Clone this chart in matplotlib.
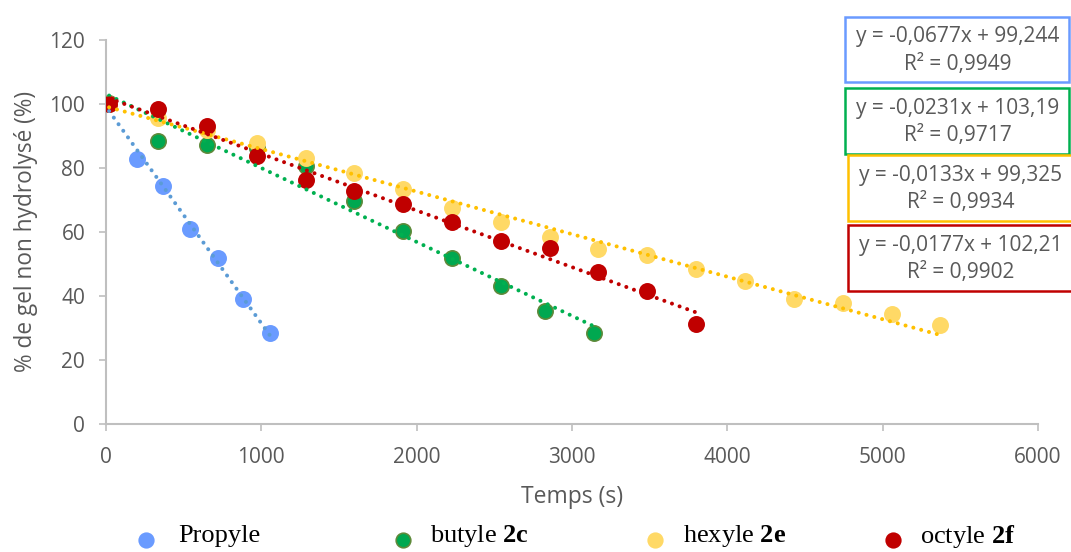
import matplotlib
matplotlib.use("Agg")
import matplotlib.pyplot as plt
from matplotlib.lines import Line2D
from matplotlib.patches import Rectangle
import numpy as np

# ---- data ----
propyle_t = [20, 198, 369, 541, 718, 884, 1056]
propyle_y = [100.0, 83.0, 74.6, 60.9, 51.9, 39.3, 28.4]

butyle_t = [20, 337, 652, 970, 1286, 1597, 1911, 2226, 2541, 2827, 3142]
butyle_y = [100.5, 88.5, 87.3, 86.5, 80.7, 69.7, 60.5, 52.1, 43.1, 35.4, 28.4]

hexyle_t = [20, 337, 652, 970, 1286, 1597, 1911, 2226, 2542, 2859, 3170,
            3485, 3799, 4115, 4429, 4744, 5059, 5370]
hexyle_y = [100.0, 95.8, 92.0, 87.8, 83.1, 78.4, 73.5, 67.5, 63.2, 58.4, 54.7,
            52.9, 48.4, 44.8, 39.1, 37.8, 34.4, 31.0]

octyle_t = [20, 337, 652, 970, 1286, 1597, 1911, 2226, 2542, 2859, 3170,
            3485, 3799]
octyle_y = [100.0, 98.4, 93.3, 83.8, 76.3, 73.0, 68.8, 63.2, 57.4, 55.0, 47.7,
            41.7, 31.3]

trend_slopes = [-0.0677, -0.0231, -0.0133, -0.0177]
trend_intercepts = [99.244, 103.19, 99.325, 102.21]
eq_texts = ["y = -0,0677x + 99,244\nR² = 0,9949",
            "y = -0,0231x + 103,19\nR² = 0,9717",
            "y = -0,0133x + 99,325\nR² = 0,9934",
            "y = -0,0177x + 102,21\nR² = 0,9902"]
legend_names = ["Propyle", r"butyle $\mathbf{2c}$", r"hexyle $\mathbf{2e}$", r"octyle $\mathbf{2f}$"]
x_ticks = [0, 1000, 2000, 3000, 4000, 5000, 6000]
y_ticks = [0, 20, 40, 60, 80, 100, 120]

# ---- style ----
plt.rcParams['font.family'] = ['Open Sans', 'DejaVu Sans']
plt.rcParams['mathtext.fontset'] = 'custom'
plt.rcParams['mathtext.rm'] = 'Liberation Serif'
plt.rcParams['mathtext.bf'] = 'Liberation Serif:bold'
plt.rcParams['mathtext.it'] = 'Liberation Serif:italic'

W, H = 1071, 552
fig = plt.figure(figsize=(W / 100, H / 100), dpi=100)
ax = fig.add_axes([106 / W, 1 - 424.3 / H, (1038 - 106) / W, (424.3 - 40.3) / H])

gray_txt = '#595959'
axis_col = '#BFBFBF'

series = [
    (propyle_t, propyle_y, '#6A9BFF', '#6A9BFF', '#5B9BD5'),
    (butyle_t, butyle_y, '#00A850', '#5E8A3A', '#00B050'),
    (hexyle_t, hexyle_y, '#FFD966', '#FFD966', '#FFC000'),
    (octyle_t, octyle_y, '#C00000', '#C00000', '#C00000'),
]

for i, (t, y, fc, ec, lc) in enumerate(series):
    ax.plot(t, y, linestyle='none', marker='o', markersize=11,
            markerfacecolor=fc, markeredgecolor=ec, markeredgewidth=1.2,
            zorder=3 + i * 0.1)

for i, (t, y, fc, ec, lc) in enumerate(series):
    xs = np.array([t[0], t[-1]], dtype=float)
    ys = trend_slopes[i] * xs + trend_intercepts[i]
    ax.plot(xs, ys, color=lc, linewidth=2.9, linestyle=(0, (0.01, 2.0)),
            dash_capstyle='round', zorder=5)

ax.set_xlim(0, 6000)
ax.set_ylim(0, 120)
ax.set_xticks(x_ticks)
ax.set_yticks(y_ticks)
ax.set_xticklabels([str(v) for v in x_ticks])
ax.set_yticklabels([str(v) for v in y_ticks])
for s in ['top', 'right']:
    ax.spines[s].set_visible(False)
for s in ['left', 'bottom']:
    ax.spines[s].set_color(axis_col)
    ax.spines[s].set_linewidth(1.5)
ax.tick_params(axis='both', colors=axis_col, labelcolor=gray_txt,
               labelsize=15, length=5, width=1.2, direction='out')
ax.tick_params(axis='x', pad=11)
ax.tick_params(axis='y', pad=10)

fig.text(572 / W, 1 - 497 / H, 'Temps (s)', ha='center', va='center',
         fontsize=16.5, color=gray_txt)
fig.text(26 / W, 1 - 232 / H, '% de gel non hydrolysé (%)', ha='center',
         va='center', rotation=90, fontsize=16.3, color=gray_txt)

# equation boxes (pixel coords: x0, y0 top, x1, y1 bottom)
boxes = [(845, 17, 1069, 82), (845, 88, 1069, 154),
         (848, 155, 1072, 221), (848, 225, 1072, 291)]
box_cols = ['#6A9BFF', '#00B050', '#FFC000', '#C00000']
for (x0, y0, x1, y1), col, txt in zip(boxes, box_cols, eq_texts):
    fig.add_artist(Rectangle((x0 / W, 1 - y1 / H), (x1 - x0) / W, (y1 - y0) / H,
                             transform=fig.transFigure, fill=True,
                             facecolor='white', edgecolor=col, linewidth=1.8,
                             clip_on=False, zorder=6))
    fig.text(((x0 + x1) / 2 + 1) / W, 1 - ((y0 + y1) / 2 + 1) / H, txt,
             ha='center', va='center', fontsize=15, color=gray_txt,
             linespacing=1.42, zorder=7)

# legend (manual, bottom)
leg_marker_x = [146, 403, 655, 893]
leg_text_x = [178, 430, 683, 920]
leg_y = 540
for (t, y, fc, ec, lc), mx, tx, name in zip(series, leg_marker_x, leg_text_x, legend_names):
    fig.add_artist(Line2D([mx / W], [1 - leg_y / H], transform=fig.transFigure,
                          marker='o', markersize=10.5, markerfacecolor=fc,
                          markeredgecolor=ec, markeredgewidth=1.2, linestyle='none'))
    fig.text(tx / W, 1 - (leg_y - 4) / H, name, ha='left', va='center',
             fontsize=19, family='Liberation Serif', color='black')

fig.savefig('out.png', dpi=100)
